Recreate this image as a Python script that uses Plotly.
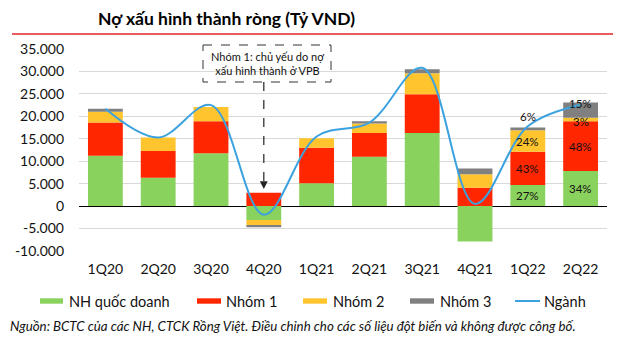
import plotly.graph_objects as go

quarters = ["1Q20", "2Q20", "3Q20", "4Q20", "1Q21", "2Q21", "3Q21", "4Q21", "1Q22", "2Q22"]
nh_quoc_doanh = [11200, 6300, 11800, -3100, 5100, 11000, 16300, -7900, 4700, 7800]
nhom1 = [7400, 6000, 7100, 3000, 7900, 5300, 8600, 4100, 7400, 11100]
nhom2 = [2400, 3000, 3200, -1100, 2100, 2100, 4700, 3000, 4800, 800]
nhom3 = [700, 0, 0, -500, 0, 500, 900, 1300, 600, 3400]
nganh = [21700, 15300, 22500, -1900, 15500, 18600, 30800, 500, 17800, 22600]

pct_labels = {
    "1Q22": ["27%", "43%", "24%", "6%"],
    "2Q22": ["34%", "48%", "3%", "15%"],
}
ytick_vals = [35000, 30000, 25000, 20000, 15000, 10000, 5000, 0, -5000, -10000]
ytick_text = ["35.000", "30.000", "25.000", "20.000", "15.000", "10.000", "5.000", "0", "-5.000", "-10.000"]

names = ["NH quốc doanh", "Nhóm 1", "Nhóm 2", "Nhóm 3", "Ngành"]
colors = ["#8AD25E", "#FF2600", "#FFC42E", "#808080", "#3CA2DF"]

W, H = 618, 342
L, R, T, B = 79, 607, 49, 251

def px(x):
    return (x - L) / (R - L)

def py(y):
    return (B - y) / (B - T)

FONT = "Lato"

fig = go.Figure()
for vals, nm, c in zip([nh_quoc_doanh, nhom1, nhom2, nhom3], names[:4], colors[:4]):
    fig.add_trace(go.Bar(x=quarters, y=vals, name=nm, marker=dict(color=c, line=dict(width=0))))
fig.add_trace(go.Scatter(x=quarters, y=nganh, name=names[4], mode="lines",
                         line=dict(color=colors[4], width=2, shape="spline", smoothing=1.0)))

annotations = []
shapes = []

# percentage labels, placed at the middle of each positive segment
label_shift = {("1Q22", 3): 12, ("2Q22", 3): 7, ("2Q22", 2): -2}
for q, labs in pct_labels.items():
    i = quarters.index(q)
    segs = [nh_quoc_doanh[i], nhom1[i], nhom2[i], nhom3[i]]
    base = 0
    for k, (v, lab) in enumerate(zip(segs, labs)):
        mid = base + v / 2
        annotations.append(dict(x=q, y=mid, text=lab, showarrow=False, yshift=label_shift.get((q, k), 0),
                                font=dict(family=FONT, size=11.5, color="#111")))
        base += v

# title
annotations.append(dict(xref="paper", yref="paper", x=px(96), y=py(18), xanchor="left", yanchor="middle",
                        text="<b>Nợ xấu hình thành ròng (Tỷ VND)</b>", showarrow=False,
                        font=dict(family=FONT, size=17.5, color="#000")))
shapes.append(dict(type="line", xref="paper", yref="paper", x0=px(12), x1=px(613), y0=py(34), y1=py(34),
                   line=dict(color="#E0262B", width=1.5)))

# callout box
shapes.append(dict(type="rect", xref="paper", yref="paper", x0=px(203), x1=px(331), y0=py(45), y1=py(82),
                   line=dict(color="#333", width=1, dash="dash"), fillcolor="rgba(0,0,0,0)"))
annotations.append(dict(xref="paper", yref="paper", x=px(267), y=py(63.5), xanchor="center", yanchor="middle",
                        text="Nhóm 1: chủ yếu do nợ<br>xấu hình thành ở VPB", showarrow=False, align="center",
                        font=dict(family=FONT, size=11, color="#111")))
shapes.append(dict(type="line", xref="x", yref="paper", x0="4Q20", x1="4Q20", y0=py(82), y1=py(184),
                   line=dict(color="#333", width=1.3, dash="dash")))
annotations.append(dict(x="4Q20", y=nhom1[3] + 800, ax=0, ay=-6, text="", showarrow=True,
                        arrowhead=2, arrowsize=1.3, arrowwidth=1.2, arrowcolor="#222"))

# legend (manual)
leg_y = 301
leg_items = [(40, 63, 67), (197, 221, 224), (303, 327, 331), (410, 434, 438), (515, 540, 542)]
for k, ((x0, x1, tx), nm, c) in enumerate(zip(leg_items, names, colors)):
    if k < 4:
        shapes.append(dict(type="rect", xref="paper", yref="paper", x0=px(x0), x1=px(x1),
                           y0=py(leg_y + 2.7), y1=py(leg_y - 2.7), line=dict(width=0), fillcolor=c))
    else:
        shapes.append(dict(type="line", xref="paper", yref="paper", x0=px(x0), x1=px(x1),
                           y0=py(leg_y), y1=py(leg_y), line=dict(color=c, width=2)))
    annotations.append(dict(xref="paper", yref="paper", x=px(tx), y=py(leg_y), xanchor="left", yanchor="middle",
                            text=nm, showarrow=False, font=dict(family=FONT, size=14.5, color="#111")))

# footer
annotations.append(dict(xref="paper", yref="paper", x=px(8), y=py(326), xanchor="left", yanchor="middle",
                        text="<i>Nguồn: BCTC của các NH, CTCK Rồng Việt. Điều chỉnh cho các số liệu đột biến và không được công bố.</i>",
                        showarrow=False, font=dict(family=FONT, size=13.3, color="#111")))

fig.update_layout(
    width=W, height=H,
    margin=dict(l=L, r=W - R, t=T, b=H - B, pad=0),
    barmode="relative", bargap=0.34,
    plot_bgcolor="white", paper_bgcolor="white",
    showlegend=False,
    font=dict(family=FONT, size=13, color="#111"),
    annotations=annotations, shapes=shapes,
)
fig.update_xaxes(showgrid=False, showline=False, ticks="", tickfont=dict(size=14), ticklabelstandoff=8)
fig.update_yaxes(range=[-10000, 35000], tickvals=ytick_vals, ticktext=ytick_text,
                 showgrid=True, gridcolor="#D9D9D9", gridwidth=1,
                 zeroline=True, zerolinecolor="#000", zerolinewidth=1.2,
                 showline=False, ticks="", tickfont=dict(size=14), ticklabelstandoff=14)

fig.write_html("out.html")
